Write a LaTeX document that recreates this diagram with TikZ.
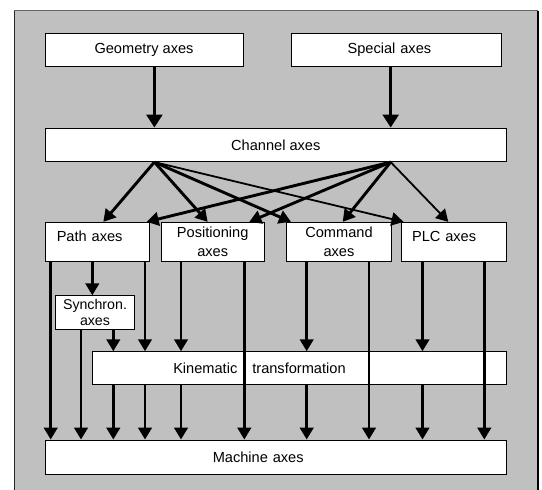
\documentclass[tikz,border=0pt]{standalone}
\usepackage{fontspec}
\setmainfont{Liberation Sans}
\usepackage{xcolor}
\usetikzlibrary{positioning, arrows.meta}

\definecolor{panelgray}{HTML}{C0C0C0}
\tikzset{
    box/.style={draw, fill=white, line width=0.9pt, inner sep=0pt, align=center, font=\fontsize{14.6}{18.4}\selectfont},
    ar/.style={-{Triangle[width=13.5pt, length=12pt]}, line width=2.9pt},
    thinar/.style={-{Triangle[width=13.5pt, length=12pt]}, line width=1.8pt}
}

\begin{document}
\begin{tikzpicture}[x=1pt, y=-1pt]
                    \useasboundingbox (0,0) rectangle (542,490);
                    \fill[panelgray] (14,10.7) rectangle (538,490);
                    \draw[black!60, line width=1.2pt] (14,10.7) -- (538,10.7);
                    \draw[black!85, line width=1pt] (14,10.7) -- (14,490);
                    \draw[black, line width=2pt] (538,10.7) -- (538,490);

                    \node[box, minimum width=198pt, minimum height=33pt] (geo) at (144, 49.7) {Geometry axes};
                    \node[box, minimum width=210pt, minimum height=33pt, text width=96.8pt, inner xsep=56.6pt, align=left] (spec) at (396, 49.8) {Special axes};
                    \node[box, minimum width=461.7pt, minimum height=33.7pt] (chan) at (275.8, 144.8) {Channel axes};
                    \node[box, minimum width=104.3pt, minimum height=39.2pt, text width=80.9pt, inner xsep=11.7pt, align=left, text depth=11pt] (path) at (97.2, 241.9) {Path axes};
                    \node[box, minimum width=103.3pt, minimum height=39.2pt] (posi) at (212.7, 241.9) {Positioning\\axes};
                    \node[box, minimum width=105.4pt, minimum height=39.2pt] (cmd) at (339, 241.9) {Command\\axes};
                    \node[box, minimum width=104.7pt, minimum height=39.2pt, text width=83.3pt, inner xsep=10.7pt, align=left, text depth=11pt] (plc) at (453.7, 241.9) {PLC axes};
                    \node[box, minimum width=78.6pt, minimum height=33.3pt, font=\fontsize{14.2}{16.7}\selectfont] (sync) at (95, 312.4) {Synchron.\\axes};
                    \node[box, minimum width=414.7pt, minimum height=32.6pt, text width=252.1pt, inner xsep=81.3pt, align=left] (kin) at (299.3, 368) {Kinematic\hspace{15pt}transformation};
                    \node[box, minimum width=461.7pt, minimum height=34pt, text width=126.1pt, inner xsep=167.8pt, align=left] (mach) at (275.8, 457) {Machine axes};

                    \draw[ar, -{Triangle[width=16pt, length=13pt]}] (geo.south -| 154.4,0) -- (chan.north -| 154.4,0);
                    \draw[ar, -{Triangle[width=16pt, length=13pt]}] (spec.south -| 390.7,0) -- (chan.north -| 390.7,0);

                    \draw[ar] (chan.south -| 154.4,0) -- (path.north -| 103.3,0);
                    \draw[ar] (chan.south -| 154.4,0) -- (posi.north -| 207.7,0);
                    \draw[ar] (chan.south -| 154.4,0) -- (cmd.north -| 291,0);
                    \draw[thinar] (chan.south -| 154.4,0) -- (plc.north -| 403.5,0);
                    \draw[ar] (chan.south -| 390.7,0) -- (path.north -| 146.7,0);
                    \draw[ar] (chan.south -| 390.7,0) -- (posi.north -| 249.3,0);
                    \draw[ar] (chan.south -| 390.7,0) -- (cmd.north -| 342.7,0);
                    \draw[thinar] (chan.south -| 390.7,0) -- (plc.north -| 448.3,0);

                    \draw[ar] (path.south -| 50.7,0) -- (mach.north -| 50.7,0);
                    \draw[ar] (path.south -| 92.3,0) -- (sync.north -| 92.3,0);
                    \draw[ar] (path.south -| 145,0) -- (kin.north -| 145,0);
                    \draw[ar] (sync.south -| 81,0) -- (mach.north -| 81,0);
                    \draw[ar] (sync.south -| 113.3,0) -- (kin.north -| 113.3,0);
                    \draw[ar] (posi.south -| 181,0) -- (kin.north -| 181,0);
                    \draw[ar] (posi.south -| 244.3,0) -- (mach.north -| 244.3,0);
                    \draw[ar] (cmd.south -| 306.7,0) -- (kin.north -| 306.7,0);
                    \draw[ar] (cmd.south -| 369,0) -- (mach.north -| 369,0);
                    \draw[ar] (plc.south -| 422.5,0) -- (kin.north -| 422.5,0);
                    \draw[ar] (plc.south -| 484.3,0) -- (mach.north -| 484.3,0);

                    \draw[ar] (kin.south -| 113.3,0) -- (mach.north -| 113.3,0);
                    \draw[ar] (kin.south -| 145,0) -- (mach.north -| 145,0);
                    \draw[ar] (kin.south -| 181,0) -- (mach.north -| 181,0);
                    \draw[ar] (kin.south -| 306.7,0) -- (mach.north -| 306.7,0);
                    \draw[ar] (kin.south -| 422.5,0) -- (mach.north -| 422.5,0);
                \end{tikzpicture}
\end{document}
